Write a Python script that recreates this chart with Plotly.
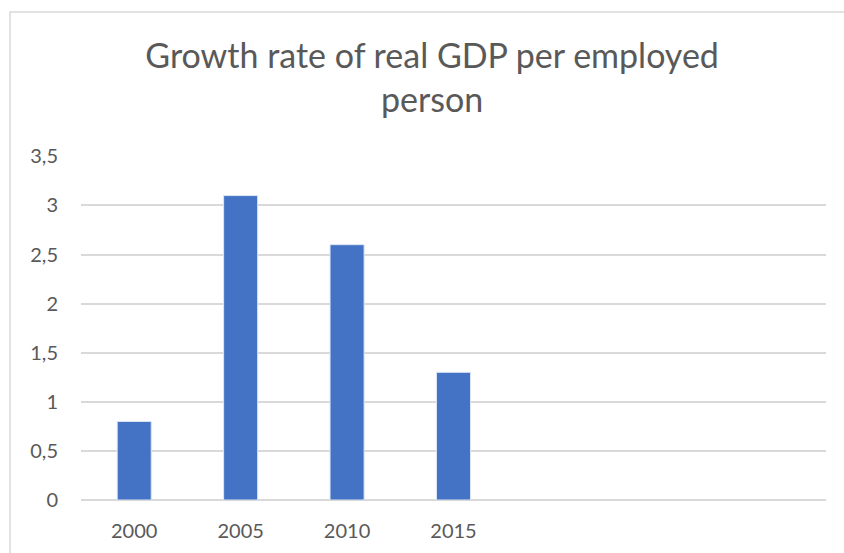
import plotly.graph_objects as go

# Growth rate of real GDP per employed person, by year
years = ["2000", "2005", "2010", "2015"]
growth = [0.8, 3.1, 2.6, 1.3]
y_ticks = [0, 0.5, 1, 1.5, 2, 2.5, 3, 3.5]
y_tick_labels = ["0", "0,5", "1", "1,5", "2", "2,5", "3", "3,5"]

TEXT = "#595959"
GRID = "#D9D9D9"
BAR = "#4472C4"
FONT = "Lato, 'Open Sans', sans-serif"

fig = go.Figure(
    go.Bar(
        x=years,
        y=growth,
        width=0.32,
        marker=dict(color=BAR, line=dict(color="#DCE6F5", width=1)),
        hoverinfo="x+y",
    )
)

fig.update_layout(
    width=844,
    height=553,
    paper_bgcolor="white",
    plot_bgcolor="white",
    margin=dict(l=81, r=18, t=156, b=53),
    showlegend=False,
    font=dict(family=FONT, color=TEXT, size=20),
    title=dict(
        text="Growth rate of real GDP per employed<br>person",
        x=0.512,
        xref="container",
        y=0.877,
        yref="container",
        yanchor="top",
        font=dict(family=FONT, size=34, color=TEXT),
    ),
    xaxis=dict(
        type="category",
        range=[-0.5, 6.5],
        automargin=False,
        showgrid=False,
        showline=False,
        zeroline=False,
        ticks="outside",
        ticklen=13,
        tickcolor="rgba(0,0,0,0)",
        tickfont=dict(size=20, color=TEXT),
    ),
    yaxis=dict(
        range=[0, 3.503],
        automargin=False,
        tickvals=y_ticks,
        ticktext=y_tick_labels,
        showgrid=True,
        gridcolor=GRID,
        gridwidth=1.5,
        zeroline=True,
        zerolinecolor=GRID,
        zerolinewidth=1.5,
        showline=False,
        ticks="outside",
        ticklen=18,
        tickcolor="rgba(0,0,0,0)",
        tickfont=dict(size=20, color=TEXT),
    ),
    shapes=[
        dict(
            type="rect",
            xref="paper",
            yref="paper",
            x0=(10 - 81) / 745,
            x1=1.2,
            y0=-0.3,
            y1=(500 - 12) / 344,
            line=dict(color=GRID, width=1.5),
            fillcolor="rgba(0,0,0,0)",
            layer="below",
        )
    ],
)

fig.write_html("out.html")
